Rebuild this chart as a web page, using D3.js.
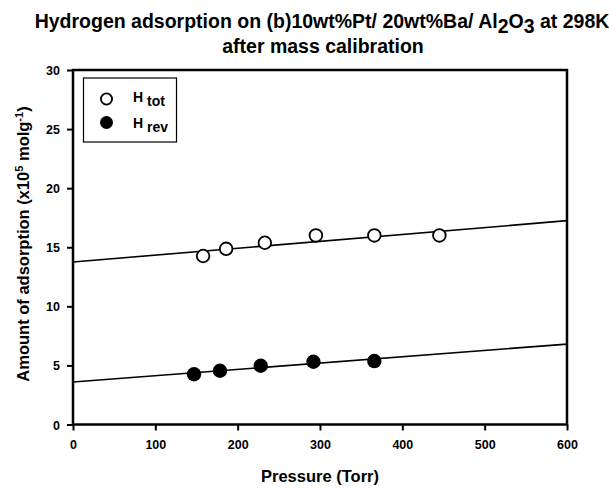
<!DOCTYPE html>
<html><head><meta charset="utf-8">
<script src="https://cdn.jsdelivr.net/npm/d3@7"></script>
<style>body{margin:0;background:#fff;overflow:hidden}svg{display:block;font-family:"Liberation Sans",Arial,sans-serif}</style>
</head><body><svg id="c" width="609" height="490"></svg>
<script>
const totPressure = [158, 186, 233, 295, 366, 445];
const totAmount   = [14.26, 14.87, 15.38, 16.0, 16.0, 16.0];
const revPressure = [147, 178.5, 228, 292, 366];
const revAmount   = [4.25, 4.55, 4.97, 5.31, 5.37];
const totFitX = [0, 600], totFitY = [13.75, 17.25];
const revFitX = [0, 600], revFitY = [3.6, 6.8];
const xTicks = [0, 100, 200, 300, 400, 500, 600];
const yTicks = [0, 5, 10, 15, 20, 25, 30];

const svg = d3.select("#c");
const L = 73, R = 567, T = 70, B = 424.5;
const x = d3.scaleLinear().domain([0, 600]).range([L, R]);
const y = d3.scaleLinear().domain([0, 30]).range([B, T]);

// title
const t = svg.append("g").attr("font-weight", "bold").attr("font-size", 19.5).attr("text-anchor", "middle");
const t1 = t.append("text").attr("x", 322).attr("y", 27.5);
t1.append("tspan").text("Hydrogen adsorption on (b)10wt%Pt/ 20wt%Ba/ Al");
t1.append("tspan").attr("dy", 5).text("2");
t1.append("tspan").attr("dy", -5).text("O");
t1.append("tspan").attr("dy", 5).text("3");
t1.append("tspan").attr("dy", -5).text(" at 298K");
t.append("text").attr("x", 323).attr("y", 53).text("after mass calibration");

// regression lines
const line = d3.line().x(d => x(d[0])).y(d => y(d[1]));
svg.append("path").attr("d", line(d3.zip(totFitX, totFitY))).attr("stroke", "#000").attr("stroke-width", 1.6).attr("fill", "none");
svg.append("path").attr("d", line(d3.zip(revFitX, revFitY))).attr("stroke", "#000").attr("stroke-width", 1.6).attr("fill", "none");

// points
svg.append("g").selectAll("circle").data(d3.zip(totPressure, totAmount)).join("circle")
  .attr("cx", d => x(d[0])).attr("cy", d => y(d[1])).attr("r", 6.3)
  .attr("fill", "#fff").attr("stroke", "#000").attr("stroke-width", 1.8);
svg.append("g").selectAll("circle").data(d3.zip(revPressure, revAmount)).join("circle")
  .attr("cx", d => x(d[0])).attr("cy", d => y(d[1])).attr("r", 7.2)
  .attr("fill", "#000");

// axes
const xa = svg.append("g").attr("transform", `translate(0,${B})`)
  .call(d3.axisBottom(x).tickValues(xTicks).tickSize(6).tickSizeOuter(0).tickPadding(8));
const ya = svg.append("g").attr("transform", `translate(${L},0)`)
  .call(d3.axisLeft(y).tickValues(yTicks).tickSize(6).tickSizeOuter(0).tickPadding(7));
[xa, ya].forEach(a => {
  a.select(".domain").remove();
  a.selectAll("line").attr("stroke-width", 2);
  a.selectAll("text").attr("font-weight", "bold").attr("font-size", 12.5).attr("font-family", "Liberation Sans, Arial, sans-serif").attr("fill", "#000");
});
xa.selectAll("text").attr("dy", "0.85em");
ya.selectAll("text").attr("dy", "0.36em");
svg.append("rect").attr("x", L).attr("y", T).attr("width", R - L).attr("height", B - T)
  .attr("fill", "none").attr("stroke", "#000").attr("stroke-width", 2.5);

// axis titles
svg.append("text").attr("x", 320).attr("y", 482).attr("text-anchor", "middle")
  .attr("font-weight", "bold").attr("font-size", 16.5).text("Pressure (Torr)");
const yt = svg.append("text").attr("transform", "translate(29,244) rotate(-90)").attr("text-anchor", "middle")
  .attr("font-weight", "bold").attr("font-size", 16.5);
yt.append("tspan").text("Amount of adsorption (x10");
yt.append("tspan").attr("dy", -6).attr("font-size", 11).text("5");
yt.append("tspan").attr("dy", 6).text(" molg");
yt.append("tspan").attr("dy", -6).attr("font-size", 11).text("-1");
yt.append("tspan").attr("dy", 6).text(")");

// legend
const lg = svg.append("g");
lg.append("rect").attr("x", 83.5).attr("y", 78).attr("width", 93).attr("height", 64)
  .attr("fill", "#fff").attr("stroke", "#000").attr("stroke-width", 1.2);
lg.append("circle").attr("cx", 106.5).attr("cy", 99).attr("r", 5.6).attr("fill", "#fff").attr("stroke", "#000").attr("stroke-width", 1.8);
lg.append("circle").attr("cx", 106.5).attr("cy", 122.5).attr("r", 6.5).attr("fill", "#000");
const lt1 = lg.append("text").attr("x", 133).attr("y", 101.5).attr("font-weight", "bold").attr("font-size", 14);
lt1.append("tspan").text("H ");
lt1.append("tspan").attr("dy", 4).text("tot");
const lt2 = lg.append("text").attr("x", 133).attr("y", 128).attr("font-weight", "bold").attr("font-size", 14);
lt2.append("tspan").text("H ");
lt2.append("tspan").attr("dy", 4).text("rev");
</script></body></html>
